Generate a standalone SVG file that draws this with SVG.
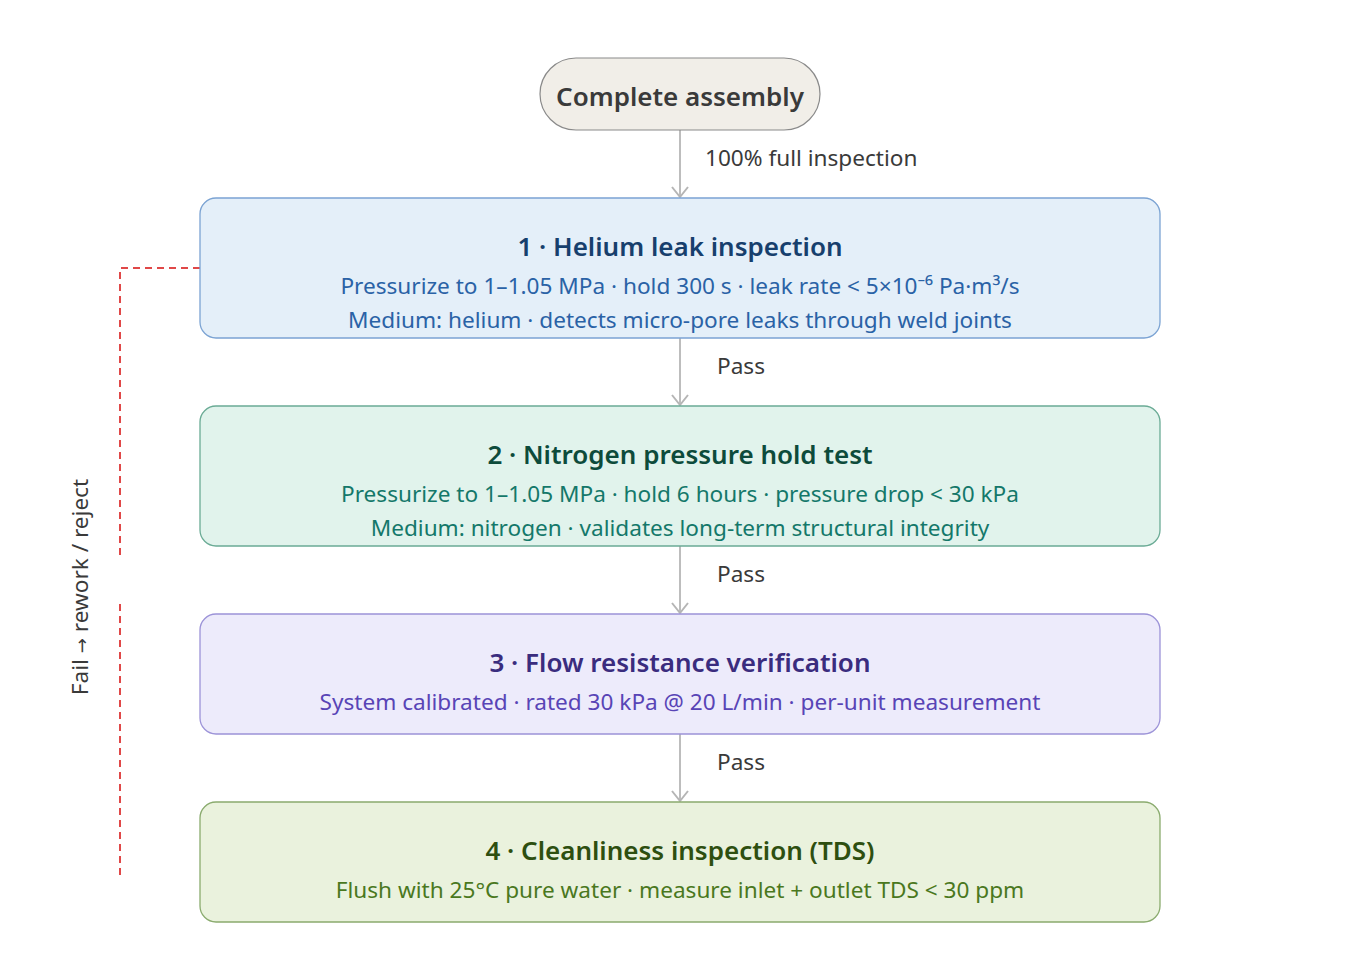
<svg xmlns="http://www.w3.org/2000/svg" width="1360" height="960" viewBox="0 0 1360 960">
<defs>
<style>
text{font-family:"Noto Sans","Open Sans","Liberation Sans",sans-serif;text-anchor:middle}
.t{font-size:26px;font-weight:600}
.s{font-size:22.6px}
.lbl{font-size:22.6px;fill:#3a3a3a;text-anchor:start}
.edge{stroke:#bdbdbd;stroke-width:2;fill:none}
.fail{stroke:#e04848;stroke-width:2;fill:none;stroke-dasharray:7 5}
</style>
<marker id="arr" viewBox="0 0 20 18" refX="18" refY="9" markerWidth="20" markerHeight="18" markerUnits="userSpaceOnUse" orient="auto">
<path d="M8,1 L18,9 L8,17" fill="none" stroke="#b5b5b5" stroke-width="2"/>
</marker>
</defs>
<rect width="1360" height="960" fill="#ffffff"/>
<g id="connectors">
<line class="edge" x1="680" y1="130" x2="680" y2="197" marker-end="url(#arr)"/>
<line class="edge" x1="680" y1="338" x2="680" y2="405" marker-end="url(#arr)"/>
<line class="edge" x1="680" y1="546" x2="680" y2="613" marker-end="url(#arr)"/>
<line class="edge" x1="680" y1="734" x2="680" y2="801" marker-end="url(#arr)"/>
<text class="lbl" x="705" y="166">100% full inspection</text>
<text class="lbl" x="717" y="374">Pass</text>
<text class="lbl" x="717" y="582">Pass</text>
<text class="lbl" x="717" y="770">Pass</text>
<polyline class="fail" points="200,268 120,268 120,555"/>
<line class="fail" x1="120" y1="604" x2="120" y2="878"/>
<text class="lbl" style="text-anchor:middle" transform="translate(88,587) rotate(-90)">Fail <tspan style="font-family:'DejaVu Sans',sans-serif;font-size:18px">→</tspan> rework / reject</text>
</g>
<g id="start">
<rect x="540" y="58" width="280" height="72" rx="36" fill="#f1eee8" stroke="#8a8a8a" stroke-width="1.2"/>
<text class="t" x="680" y="106" fill="#3a3a3a">Complete assembly</text>
</g>
<g id="step1">
<rect x="200" y="198" width="960" height="140" rx="16" fill="#e4eff9" stroke="#7ba3d3" stroke-width="1.3"/>
<text class="t" x="680" y="256" fill="#173f6d">1 · Helium leak inspection</text>
<text class="s" x="680" y="294" fill="#2a62a6">Pressurize to 1–1.05 MPa · hold 300 s · leak rate &lt; 5×10⁻⁶ Pa·m³/s</text>
<text class="s" x="680" y="328" fill="#2a62a6">Medium: helium · detects micro-pore leaks through weld joints</text>
</g>
<g id="step2">
<rect x="200" y="406" width="960" height="140" rx="16" fill="#e1f3ec" stroke="#6aab95" stroke-width="1.3"/>
<text class="t" x="680" y="464" fill="#0d4b3b">2 · Nitrogen pressure hold test</text>
<text class="s" x="680" y="502" fill="#14786a">Pressurize to 1–1.05 MPa · hold 6 hours · pressure drop &lt; 30 kPa</text>
<text class="s" x="680" y="536" fill="#14786a">Medium: nitrogen · validates long-term structural integrity</text>
</g>
<g id="step3">
<rect x="200" y="614" width="960" height="120" rx="16" fill="#edebfb" stroke="#9c93d8" stroke-width="1.3"/>
<text class="t" x="680" y="672" fill="#3a2c7e">3 · Flow resistance verification</text>
<text class="s" x="680" y="710" fill="#5844b6">System calibrated · rated 30 kPa @ 20 L/min · per-unit measurement</text>
</g>
<g id="step4">
<rect x="200" y="802" width="960" height="120" rx="16" fill="#eaf2dd" stroke="#8aab6e" stroke-width="1.3"/>
<text class="t" x="680" y="860" fill="#2e4f10">4 · Cleanliness inspection (TDS)</text>
<text class="s" x="680" y="898" fill="#4a781e">Flush with 25°C pure water · measure inlet + outlet TDS &lt; 30 ppm</text>
</g>
</svg>
